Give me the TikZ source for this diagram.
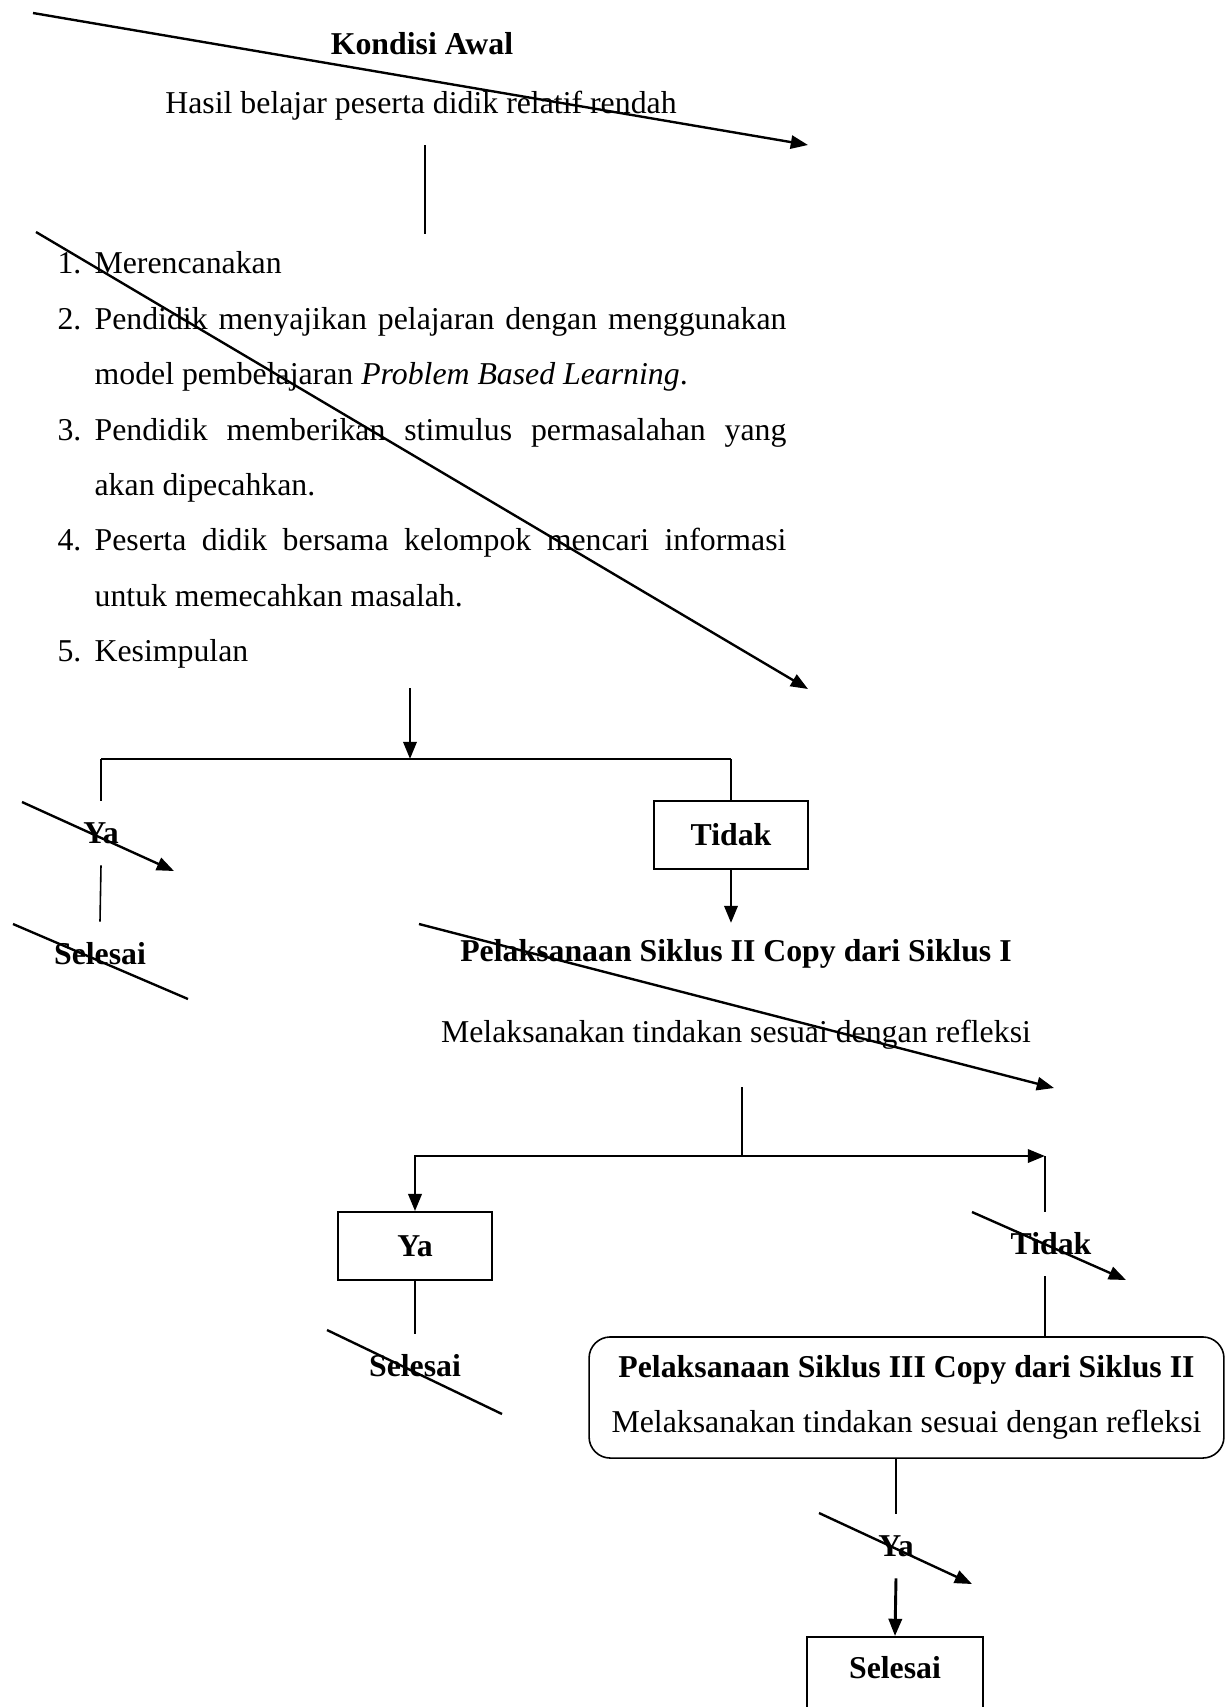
\documentclass[tikz,border=0pt]{standalone}
\usepackage{fontspec}
\setmainfont{Liberation Serif}
\usetikzlibrary{arrows.meta, positioning}

\newcommand{\px}{0.3774pt}
\newcommand{\ukuran}{\fontsize{12}{20.9}\selectfont}
\newcommand{\butir}[2]{\par\hangindent=14pt\hangafter=1\noindent\makebox[14pt][l]{#1.}#2}

\begin{document}
\begin{tikzpicture}[x=\px,y=-\px,font=\ukuran,>={Triangle[length=6.5pt,width=5pt]}]

	\tikzset{judul/.style={font=\ukuran\bfseries, inner sep=0pt}}
	\tikzset{isi/.style={inner sep=0pt}}
	\tikzset{ket/.style={font=\ukuran\bfseries, inner sep=0pt, minimum height=24pt}}
	\tikzset{kotak/.style={draw, line width=0.6pt, font=\ukuran\bfseries, inner sep=0pt,
			minimum width=58pt, minimum height=25.7pt}}
	\tikzset{kotakbulat/.style={draw, line width=0.6pt, rounded corners=8pt, align=center,
			inner sep=0pt, minimum width=239.6pt, minimum height=45.7pt}}
	\tikzset{tipis/.style={line width=0.6pt}}
	\tikzset{tebal/.style={line width=1.1pt}}
	\tikzset{coret/.style={line width=0.9pt}}

	\clip (0,0) rectangle (1227,1707);

	% kondisi awal
	\node[judul] (kondisi) at (422,44) {Kondisi Awal};
	\node[isi] (hasil) at (421,106) {Hasil belajar peserta didik relatif rendah};
	\coordinate (h1) at (425,145);
	\coordinate (h2) at (425,234);
	\draw[tipis] (h1) -- (h2);

	% siklus I
	\node[isi, anchor=north west, text width=275.1pt, align=justify] (langkah) at (57,218) {%
		\butir{1}{Merencanakan}
		\butir{2}{Pendidik menyajikan pelajaran dengan menggunakan\linebreak
			model pembelajaran \textit{Problem Based Learning}.}
		\butir{3}{Pendidik memberikan stimulus permasalahan yang\linebreak
			akan dipecahkan.}
		\butir{4}{Peserta didik bersama kelompok mencari informasi\linebreak
			untuk memecahkan masalah.}
		\butir{5}{Kesimpulan}};

	\coordinate (k1) at (410,688);
	\coordinate (cabang1) at (410,759);
	\draw[tebal,->] (k1) -- (cabang1);

	\node[ket] (ya1) at (101,833) {Ya};
	\node[ket] (selesai1) at (100,954) {Selesai};
	\node[kotak] (tidak1) at (731,835) {Tidak};
	\coordinate (t1) at (731,923);

	\draw[tebal] (ya1.north |- cabang1) -- (tidak1.north |- cabang1);
	\draw[tipis] (ya1.north |- cabang1) -- (ya1.north);
	\draw[tipis] (tidak1.north |- cabang1) -- (tidak1.north);
	\draw[tipis] (ya1.south) -- (selesai1.north);
	\draw[tebal,->] (tidak1.south) -- (t1);

	% siklus II
	\node[judul] (siklus2) at (736,954) {Pelaksanaan Siklus II Copy dari Siklus I};
	\node[isi] (refleksi2) at (736,1035) {Melaksanakan tindakan sesuai dengan refleksi};
	\coordinate (r1) at (742,1087);
	\coordinate (cabang2) at (742,1156);
	\coordinate (c2r) at (1045,1156);
	\draw[tipis] (r1) -- (cabang2);

	\node[kotak] (ya2) at (415,1246) {Ya};
	\node[ket] (selesai2) at (415,1366) {Selesai};
	\node[ket] (tidak2) at (1051,1244) {Tidak};

	\draw[tebal,->] (cabang2) -| (ya2.north);
	\draw[tebal,->] (cabang2) -- (c2r);
	\draw[tipis] (c2r) -- (c2r |- tidak2.north);
	\draw[tipis] (ya2.south) -- (selesai2.north);

	% siklus III
	\node[kotakbulat] (siklus3) at (906.5,1397.5)
		{\textbf{Pelaksanaan Siklus III Copy dari Siklus II}\\
		 Melaksanakan tindakan sesuai dengan refleksi};
	\draw[tipis] (c2r |- tidak2.south) -- (c2r |- siklus3.north);

	\node[ket] (ya3) at (896,1546) {Ya};
	\node[kotak, anchor=north, minimum width=66.4pt, minimum height=36pt,
		text height=8pt, text depth=12.4pt] (selesai3) at (895,1636) {Selesai};
	\draw[tipis] (siklus3.south -| ya3) -- (ya3.north);
	\draw[tebal,->] (ya3.south) -- (selesai3.north);

	% garis coretan
	\draw[coret]
	(33,13) edge[->] (808,145)
	(36,232) edge[->] (808,689)
	(22,802) edge[->] (174,871)
	(13,924) edge (188,999)
	(419,924) edge[->] (1054,1088)
	(327,1330) edge (502,1414)
	(972,1212) edge[->] (1126,1280)
	(819,1513) edge[->] (972,1584);
\end{tikzpicture}
\end{document}
